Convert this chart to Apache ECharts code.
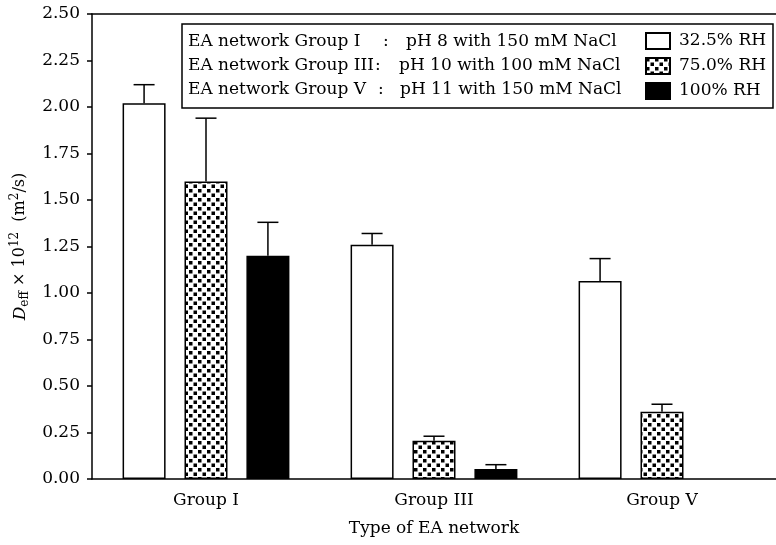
<!DOCTYPE html>
<html>
<head>
<meta charset="utf-8">
<script src="https://cdn.jsdelivr.net/npm/echarts@6/dist/echarts.min.js"></script>
<style>
  html, body { margin: 0; padding: 0; background: #fff; }
  #chart { width: 776px; height: 545px; }
</style>
</head>
<body>
<div id="chart"></div>
<script>
// Effective diffusivity of EA networks at three relative humidities
const categories = ['Group I', 'Group III', 'Group V'];
const seriesNames = ['32.5% RH', '75.0% RH', '100% RH'];
const rh325 = [2.02, 1.26, 1.065];
const rh750 = [1.60, 0.205, 0.362];
const rh100 = [1.20, 0.054, null];
const err325 = [0.10, 0.06, 0.12];
const err750 = [0.34, 0.025, 0.04];
const err100 = [0.18, 0.023, null];
const yMin = 0, yMax = 2.5, yStep = 0.25;
const legendRows = [
  ['EA network Group I', ':', 'pH 8 with 150 mM NaCl'],
  ['EA network Group III', ':', 'pH 10 with 100 mM NaCl'],
  ['EA network Group V', ':', 'pH 11 with 150 mM NaCl']
];

const FONT = 'DejaVu Serif';
const BAR_W = 43;
const BAR_GAP = 0.44;

// checkerboard fill used for the 75.0% RH bars
function checkerTile() {
  const c = document.createElement('canvas');
  c.width = 9; c.height = 9;
  const g = c.getContext('2d');
  g.fillStyle = '#fff';
  g.fillRect(0, 0, 9, 9);
  g.fillStyle = '#000';
  g.fillRect(0, 0, 3.5, 3.5);
  g.fillRect(4.5, 4.5, 3.5, 3.5);
  return c;
}

const fills = ['#ffffff', { image: checkerTile(), repeat: 'repeat' }, '#000000'];
const values = [rh325, rh750, rh100];
const errors = [err325, err750, err100];

const barSeries = values.map((vals, s) => ({
  name: seriesNames[s],
  type: 'bar',
  barWidth: BAR_W,
  barGap: (BAR_GAP * 100) + '%',
  data: vals.map(v => v == null ? '-' : v),
  itemStyle: { color: fills[s], borderColor: '#000', borderWidth: 1.5 },
  emphasis: { disabled: true },
  z: 2
}));

// upward error bars, offset to sit over each bar within its group
const errSeries = values.map((vals, s) => ({
  type: 'custom',
  silent: true,
  z: 3,
  encode: { x: 0, y: 1 },
  data: vals.map((v, i) => v == null ? null : [i, v, errors[s][i]]).filter(d => d),
  renderItem: function (params, api) {
    const ci = api.value(0), v = api.value(1), e = api.value(2);
    const base = api.coord([ci, v]);
    const top = api.coord([ci, v + e]);
    const x = base[0] + (s - 1) * BAR_W * (1 + BAR_GAP);
    const st = { stroke: '#000', lineWidth: 1.5 };
    return {
      type: 'group',
      children: [
        { type: 'line', shape: { x1: x, y1: base[1], x2: x, y2: top[1] }, style: st },
        { type: 'line', shape: { x1: x - 10.5, y1: top[1], x2: x + 10.5, y2: top[1] }, style: st }
      ]
    };
  }
}));

// descriptive text block at the top of the plot, framed with the legend
const boxGraphics = [{
  type: 'rect',
  shape: { x: 182, y: 24, width: 591, height: 84 },
  style: { fill: 'transparent', stroke: '#000', lineWidth: 1.5 },
  z: 10
}];
const colX = [188, [383, 375, 378], [406, 399, 400]];
legendRows.forEach((row, r) => {
  const y = 42 + r * 24;
  const xs = [colX[0], colX[1][r], colX[2][r]];
  row.forEach((t, k) => {
    boxGraphics.push({
      type: 'text', x: xs[k], y: y, z: 10,
      style: { text: t, font: '17px "' + FONT + '"', fill: '#000', verticalAlign: 'middle', align: 'left' }
    });
  });
});

const chart = echarts.init(document.getElementById('chart'));
chart.setOption({
  animation: false,
  backgroundColor: '#fff',
  textStyle: { fontFamily: FONT, color: '#000' },
  grid: { left: 92, right: -6, top: 14, bottom: 66, containLabel: false },
  legend: {
    data: seriesNames,
    orient: 'vertical',
    left: 645, top: 32,
    padding: 0,
    icon: 'rect',
    itemWidth: 24, itemHeight: 16, itemGap: 7,
    selectedMode: false,
    textStyle: { fontFamily: FONT, fontSize: 17, color: '#000', padding: [0, 0, 0, 4] }
  },
  xAxis: [{
    type: 'category',
    data: categories,
    position: 'bottom',
    name: 'Type of EA network',
    nameLocation: 'middle',
    nameGap: 41,
    nameTextStyle: { fontFamily: FONT, fontSize: 17, color: '#000' },
    axisLine: { lineStyle: { color: '#000', width: 1.5 } },
    axisTick: { alignWithLabel: true, length: 5, lineStyle: { color: '#000', width: 1.5 } },
    axisLabel: { fontFamily: FONT, fontSize: 17, color: '#000', margin: 13 }
  }, {
    type: 'category',
    data: categories,
    position: 'top',
    axisLine: { lineStyle: { color: '#000', width: 1.5 } },
    axisTick: { show: false },
    axisLabel: { show: false }
  }],
  yAxis: {
    type: 'value',
    min: yMin, max: yMax, interval: yStep,
    name: '{i|D}{sub|eff}{n| × 10}{sup|12}{n|  (m}{sup|2}{n|/s)}',
    nameLocation: 'middle',
    nameRotate: 90,
    nameGap: 60,
    nameTextStyle: {
      fontFamily: FONT, color: '#000',
      rich: {
        i: { fontFamily: FONT, fontSize: 17, fontStyle: 'italic', lineHeight: 22, verticalAlign: 'middle' },
        n: { fontFamily: FONT, fontSize: 16, lineHeight: 22, verticalAlign: 'middle' },
        sub: { fontFamily: FONT, fontSize: 12, lineHeight: 22, verticalAlign: 'bottom' },
        sup: { fontFamily: FONT, fontSize: 12, lineHeight: 22, verticalAlign: 'top' }
      }
    },
    splitLine: { show: false },
    axisLine: { show: true, lineStyle: { color: '#000', width: 1.5 } },
    axisTick: { show: true, length: 5, lineStyle: { color: '#000', width: 1.5 } },
    axisLabel: { fontFamily: FONT, fontSize: 17, color: '#000', margin: 12, formatter: v => v.toFixed(2) }
  },
  graphic: boxGraphics,
  series: barSeries.concat(errSeries)
});
</script>
</body>
</html>
